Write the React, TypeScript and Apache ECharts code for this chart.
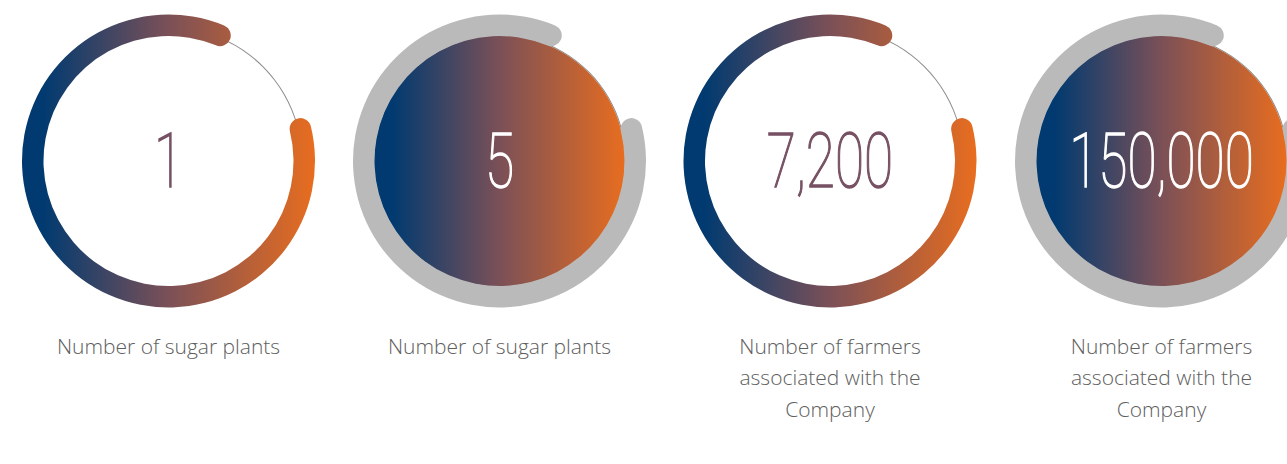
import React, { useEffect, useRef } from "react";
import * as echarts from "echarts";

// ---- data ----
const values: number[] = [1, 5, 7200, 150000];
const captions: string[] = [
  "Number of sugar plants",
  "Number of sugar plants",
  "Number of farmers\nassociated with the\nCompany",
  "Number of farmers\nassociated with the\nCompany",
];
const ringShare: number[] = [85, 85, 85, 85]; // percent of the ring drawn
const variants: string[] = ["ring", "disk", "ring", "disk"];

// ---- layout / style ----
const W = 1287;
const H = 464;
const CENTERS_X = [168.5, 499.5, 830, 1161.5];
const CY = 161;
const R_OUT = 146.5;
const BAND = 21.5;
const R_DISK = 125.5;
const R_THIN_RING = 134;
const START_ANGLE = 13.7;
const NUM_SCALE_X = 0.7;
const BLUE = "#003a70";
const MID = "#7b5057";
const ORANGE = "#e86d1f";
const GRAY = "#bababa";
const THIN = "#8c8c8c";
const NUM_ON_RING = "#765063";

function grad(x1: number, x2: number) {
  return {
    type: "linear",
    x: x1,
    y: 0,
    x2: x2,
    y2: 0,
    global: true,
    colorStops: [
      { offset: 0, color: BLUE },
      { offset: 0.07, color: BLUE },
      { offset: 0.5, color: MID },
      { offset: 1, color: ORANGE },
    ],
  };
}

function gaugeBase(cx: number, r: number, startAngle: number) {
  return {
    type: "gauge",
    center: [cx, CY],
    radius: r,
    startAngle,
    endAngle: startAngle - 360,
    min: 0,
    max: 100,
    silent: true,
    pointer: { show: false },
    anchor: { show: false },
    axisTick: { show: false },
    splitLine: { show: false },
    axisLabel: { show: false },
    detail: { show: false },
    title: { show: false },
  };
}

const fmt = (v: number) => v.toLocaleString("en-US");

export default function App() {
  const ref = useRef<HTMLDivElement>(null);
  useEffect(() => {
    if (!ref.current) return;
    const chart = echarts.init(ref.current, undefined, { renderer: "svg" });
    const series: any[] = [];
    const graphic: any[] = [];
    values.forEach((v, i) => {
      const cx = CENTERS_X[i];
      const isRing = variants[i] === "ring";
      if (!isRing) {
        series.push({
          type: "pie",
          center: [cx, CY],
          radius: [0, R_DISK],
          silent: true,
          label: { show: false },
          labelLine: { show: false },
          emphasis: { disabled: true },
          itemStyle: { color: grad(cx - R_DISK, cx + R_DISK) },
          data: [{ value: v, name: captions[i] }],
        });
      }
      const thinR = isRing ? R_THIN_RING : R_DISK + 1;
      series.push({
        ...gaugeBase(cx, thinR, 0),
        axisLine: { show: true, lineStyle: { width: 1, color: [[1, THIN]] } },
        progress: { show: false },
        data: [{ value: 0 }],
      });
      series.push({
        ...gaugeBase(cx, R_OUT, START_ANGLE),
        axisLine: { show: false },
        progress: {
          show: true,
          width: BAND,
          roundCap: true,
          itemStyle: { color: isRing ? grad(cx - R_OUT, cx + R_OUT) : GRAY },
        },
        data: [{ value: ringShare[i] }],
      });
      const numColor = isRing ? NUM_ON_RING : "#ffffff";
      graphic.push({
        type: "text",
        x: cx,
        y: CY,
        z: 100,
        scaleX: NUM_SCALE_X,
        silent: true,
        style: {
          text: fmt(v),
          fontFamily: "Roboto",
          fontWeight: 100,
          fontSize: 76,
          align: "center",
          verticalAlign: "middle",
          textAlign: "center",
          textVerticalAlign: "middle",
          fill: numColor,
          stroke: numColor,
          lineWidth: 1.4,
        },
      });
      graphic.push({
        type: "text",
        x: cx,
        y: 330,
        z: 100,
        silent: true,
        style: {
          text: captions[i],
          fontFamily: '"Open Sans"',
          fontWeight: 300,
          fontSize: 21,
          lineHeight: 31.5,
          align: "center",
          verticalAlign: "top",
          textAlign: "center",
          textVerticalAlign: "top",
          fill: "#5e5e5e",
        },
      });
    });
    chart.setOption({
      animation: false,
      backgroundColor: "#ffffff",
      series,
      graphic: { elements: graphic },
    });
    return () => chart.dispose();
  }, []);
  return (
    <div
      ref={ref}
      style={{ position: "fixed", left: 0, top: 0, width: W, height: H }}
    />
  );
}
